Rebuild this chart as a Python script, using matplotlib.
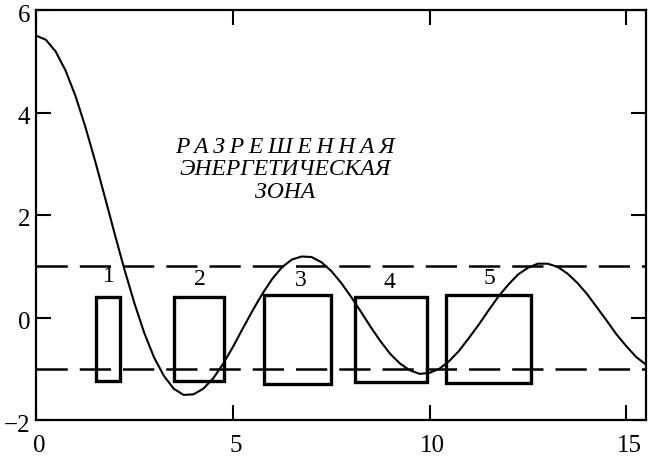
import numpy as np
import matplotlib
matplotlib.use("Agg")
import matplotlib.pyplot as plt
import matplotlib.transforms as mtransforms
from matplotlib.patches import Rectangle

plt.rcParams['font.family'] = ['Liberation Serif', 'DejaVu Serif']
plt.rcParams['axes.unicode_minus'] = True

# Dispersion function sampled on a regular grid of ka
ka = np.arange(0, 15.5 + 0.125, 0.25)
f_values = [
    5.50, 5.42, 5.19, 4.82, 4.33, 3.73, 3.06, 2.35, 1.63, 0.93,
    0.28, -0.30, -0.78, -1.14, -1.39, -1.51, -1.50, -1.39, -1.19, -0.91,
    -0.58, -0.22, 0.13, 0.46, 0.75, 0.98, 1.13, 1.19, 1.18, 1.08,
    0.91, 0.68, 0.41, 0.12, -0.18, -0.46, -0.71, -0.90, -1.03, -1.10,
    -1.08, -1.00, -0.85, -0.65, -0.40, -0.14, 0.14, 0.41, 0.64, 0.84,
    0.97, 1.05, 1.05, 0.99, 0.86, 0.68, 0.46, 0.20, -0.06, -0.33,
    -0.56, -0.77, -0.92,
]

# Allowed-band boundaries
band_levels = [1.0, -1.0]

# Band boxes: left, right, bottom, top
box_left = [1.52, 3.51, 5.79, 8.11, 10.42]
box_right = [2.13, 4.78, 7.50, 9.94, 12.57]
box_bottom = [-1.24, -1.24, -1.29, -1.25, -1.27]
box_top = [0.40, 0.40, 0.43, 0.40, 0.43]
box_labels = ["1", "2", "3", "4", "5"]
label_x = [1.86, 4.17, 6.73, 8.98, 11.52]
label_y = [0.80, 0.74, 0.72, 0.69, 0.76]

x_ticks = [0, 5, 10, 15]
y_ticks = [-2, 0, 2, 4, 6]

fig = plt.figure(figsize=(6.48, 4.57), dpi=100)
ax = fig.add_axes([36 / 648, 1 - 420 / 457, 610 / 648, 410 / 457])

ax.plot(ka, f_values, color='black', lw=1.5, zorder=3,
        solid_joinstyle='round', solid_capstyle='round')

for lvl in band_levels:
    ax.axhline(lvl, color='black', lw=1.8, linestyle=(0, (12.5, 4.8)), zorder=2)

for l, r, b, t in zip(box_left, box_right, box_bottom, box_top):
    ax.add_patch(Rectangle((l, b), r - l, t - b, fill=False,
                           edgecolor='black', lw=2.4, zorder=2))

for s, x, y in zip(box_labels, label_x, label_y):
    ax.text(x, y, s, ha='center', va='center', fontsize=17, zorder=4)

thin = "\u2009"
ax.text(6.33, 3.31, thin.join("РАЗРЕШЕННАЯ"), ha='center', va='center',
        fontsize=17, style='italic')
ax.text(6.33, 2.89, "ЭНЕРГЕТИЧЕСКАЯ", ha='center', va='center',
        fontsize=17, style='italic')
ax.text(6.33, 2.43, "ЗОНА", ha='center', va='center',
        fontsize=17, style='italic')

ax.set_xlim(0, 15.5)
ax.set_ylim(-2, 6)
ax.set_xticks(x_ticks)
ax.set_yticks(y_ticks)
ax.tick_params(direction='in', length=11, width=1.5, top=True, right=True,
               labelsize=18, colors='black')
ax.tick_params(axis='x', pad=11)
ax.tick_params(axis='y', pad=4)
for sp in ax.spines.values():
    sp.set_linewidth(1.6)

# Nudge tick labels slightly
dy = mtransforms.ScaledTranslation(0, -3 / 100, fig.dpi_scale_trans)
for lab in ax.get_yticklabels():
    lab.set_transform(lab.get_transform() + dy)
dx = mtransforms.ScaledTranslation(3 / 100, 0, fig.dpi_scale_trans)
for lab in ax.get_xticklabels():
    lab.set_transform(lab.get_transform() + dx)

fig.savefig("out.png", dpi=100)
